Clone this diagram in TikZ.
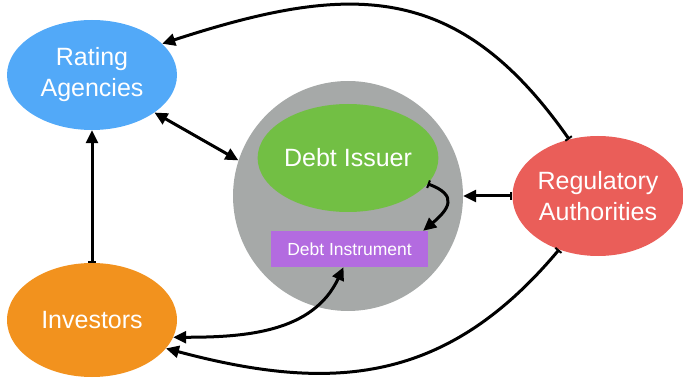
\documentclass[tikz,border=0pt]{standalone}
\usepackage{fontspec}
\setmainfont{Liberation Sans}
\usetikzlibrary{shapes.geometric,arrows.meta}
\definecolor{rablue}{RGB}{82,169,248}
\definecolor{isgreen}{RGB}{114,191,68}
\definecolor{poolgray}{RGB}{166,169,168}
\definecolor{inpurple}{RGB}{179,107,224}
\definecolor{regred}{RGB}{234,94,89}
\definecolor{invorange}{RGB}{242,146,30}

\begin{document}
\begin{tikzpicture}[x=1pt,y=1pt,
  blob/.style={ellipse,inner sep=0pt,text=white,align=center,
    font=\fontsize{25}{31}\selectfont},
  link/.style={line width=3pt,{Bar[width=8pt,line width=2pt]}-{Triangle[length=13pt,width=12pt]}},
  both/.style={line width=3pt,{Triangle[length=13pt,width=12pt]}-{Triangle[length=13pt,width=12pt]}}]
\useasboundingbox (0,0) rectangle (683,378);
\node[circle,fill=poolgray,minimum size=230pt] (pool) at (348,182){};
\node[blob,fill=isgreen,minimum width=170pt,minimum height=108pt] (issuer) at (348,220){Debt Issuer};
\node[fill=inpurple,minimum width=157pt,minimum height=36pt,inner sep=0pt,text=white,
  font=\fontsize{17.5}{20}\selectfont] (instr) at (349.5,129){Debt Instrument};
\node[blob,fill=rablue,minimum width=170pt,minimum height=110pt] (ra) at (92,303){Rating\\Agencies};
\node[blob,fill=regred,minimum width=168pt,minimum height=120pt] (reg) at (598,182){Regulatory\\Authorities};
\node[blob,fill=invorange,minimum width=170pt,minimum height=114pt] (inv) at (92,58){Investors};
% connectors
\draw[link] (reg.117) to[out=125,in=18,looseness=1.2] (ra.24);
\draw[both] (ra.-31) -- (pool.162);
\draw[link] (inv.north) -- (ra.south);
\draw[link] (reg.west) -- (pool.east);
\draw[link] (issuer.-18) to[out=-20,in=40,looseness=1.8] ([xshift=-5pt]instr.north east);
\draw[both] (inv.-12) to[out=0,in=-115] ([xshift=-6pt]instr.south);
\draw[link] (reg.-126) to[out=-130,in=-15,looseness=1.1] (inv.-21);
\end{tikzpicture}
\end{document}
